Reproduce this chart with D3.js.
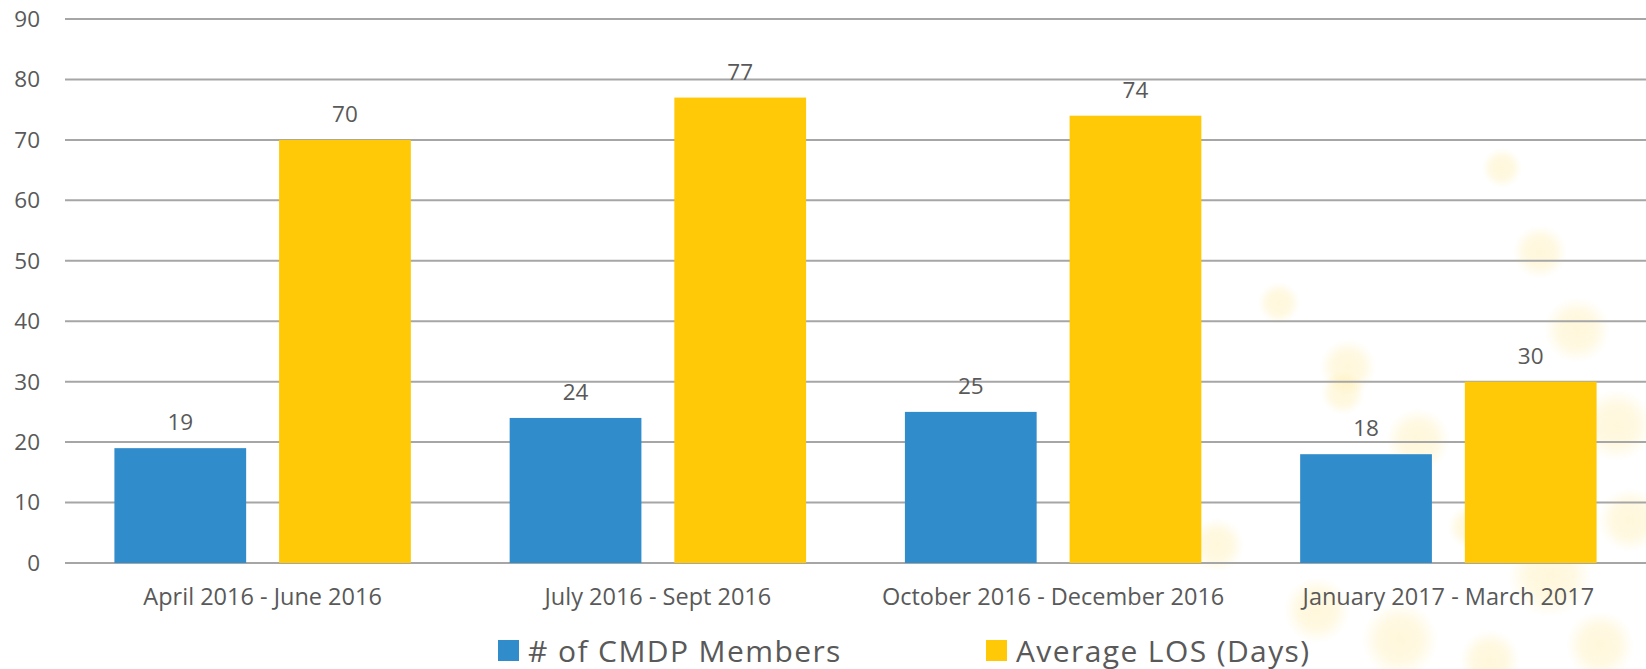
<!DOCTYPE html>
<html>
<head>
<meta charset="utf-8">
<script src="https://cdn.jsdelivr.net/npm/d3@7"></script>
<style>
  html, body { margin: 0; padding: 0; background: #fff; }
  svg { display: block; font-family: "Open Sans", sans-serif; }
</style>
</head>
<body>
<div id="chart"></div>
<script>
const categories = [
  "April 2016 - June 2016",
  "July 2016 - Sept 2016",
  "October 2016 - December 2016",
  "January 2017 - March 2017"
];
const seriesNames = ["# of CMDP Members", "Average LOS (Days)"];
const members = [19, 24, 25, 18];
const avgLos = [70, 77, 74, 30];
const yTicks = [0, 10, 20, 30, 40, 50, 60, 70, 80, 90];

// faint background dots from the slide template (decoration only)
const decorDots = [
  [1502, 168, 20], [1540, 252, 27], [1279, 303, 21], [1577, 330, 33],
  [1348, 367, 28], [1343, 393, 22], [1418, 440, 32], [1617, 425, 36],
  [1470, 527, 22], [1630, 520, 32], [1217, 545, 27], [1317, 610, 33],
  [1400, 640, 38], [1550, 575, 42], [1600, 645, 34], [1490, 660, 30]
];

const W = 1646, H = 669;
const margin = { top: 19, right: 0, bottom: 106, left: 65 };
const colors = ["#318ccb", "#ffc907"];

const data = categories.map((c, i) => ({ cat: c, values: [members[i], avgLos[i]] }));

const svg = d3.select("#chart").append("svg")
  .attr("width", W)
  .attr("height", H);

const defs = svg.append("defs");
const grad = defs.append("radialGradient").attr("id", "dot");
grad.append("stop").attr("offset", "0%").attr("stop-color", "#ffd84a").attr("stop-opacity", 0.2);
grad.append("stop").attr("offset", "55%").attr("stop-color", "#ffd84a").attr("stop-opacity", 0.16);
grad.append("stop").attr("offset", "100%").attr("stop-color", "#ffd84a").attr("stop-opacity", 0);

svg.append("g").selectAll("circle")
  .data(decorDots)
  .enter()
  .append("circle")
  .attr("cx", d => d[0])
  .attr("cy", d => d[1])
  .attr("r", d => d[2])
  .attr("fill", "url(#dot)");

const x = d3.scaleBand()
  .domain(categories)
  .range([margin.left, W - margin.right])
  .padding(0);

const xInner = d3.scaleBand()
  .domain([0, 1])
  .range([0, x.bandwidth()])
  .paddingInner(0.2)
  .paddingOuter(0.3);

const y = d3.scaleLinear()
  .domain([0, 90])
  .range([H - margin.bottom, margin.top]);

// gridlines
svg.append("g").selectAll("line")
  .data(yTicks)
  .enter()
  .append("line")
  .attr("x1", margin.left)
  .attr("x2", W)
  .attr("y1", d => y(d))
  .attr("y2", d => y(d))
  .attr("stroke", "#a6a6a6")
  .attr("stroke-width", 2);

// y labels
svg.append("g").selectAll("text")
  .data(yTicks)
  .enter()
  .append("text")
  .attr("x", 40)
  .attr("y", d => y(d))
  .attr("dy", "0.35em")
  .attr("text-anchor", "end")
  .attr("fill", "#595959")
  .style("font-size", "22.5px")
  .text(d => d);

// bars
const groups = svg.append("g").selectAll("g")
  .data(data)
  .enter()
  .append("g")
  .attr("transform", d => `translate(${x(d.cat)},0)`);

groups.selectAll("rect")
  .data(d => d.values)
  .enter()
  .append("rect")
  .attr("x", (d, i) => xInner(i))
  .attr("width", xInner.bandwidth())
  .attr("y", d => y(d))
  .attr("height", d => y(0) - y(d))
  .attr("fill", (d, i) => colors[i]);

groups.selectAll(".bar-label")
  .data(d => d.values)
  .enter()
  .append("text")
  .attr("class", "bar-label")
  .attr("x", (d, i) => xInner(i) + xInner.bandwidth() / 2)
  .attr("y", d => y(d) - 18)
  .attr("text-anchor", "middle")
  .attr("fill", "#595959")
  .style("font-size", "22.5px")
  .text(d => d);

// category labels
svg.append("g").selectAll("text")
  .data(categories)
  .enter()
  .append("text")
  .attr("x", d => x(d) + x.bandwidth() / 2)
  .attr("y", 605)
  .attr("text-anchor", "middle")
  .attr("fill", "#595959")
  .style("font-size", "23.5px")
  .text(d => d);

// legend
const legendX = [498, 986];
const legend = svg.append("g").selectAll("g")
  .data(seriesNames)
  .enter()
  .append("g")
  .attr("transform", (d, i) => `translate(${legendX[i]},640)`);

legend.append("rect")
  .attr("width", 21)
  .attr("height", 21)
  .attr("fill", (d, i) => colors[i]);

legend.append("text")
  .attr("x", 30)
  .attr("y", 21.5)
  .attr("fill", "#595959")
  .style("font-size", "30px")
  .style("letter-spacing", "1.4px")
  .text(d => d);
</script>
</body>
</html>
